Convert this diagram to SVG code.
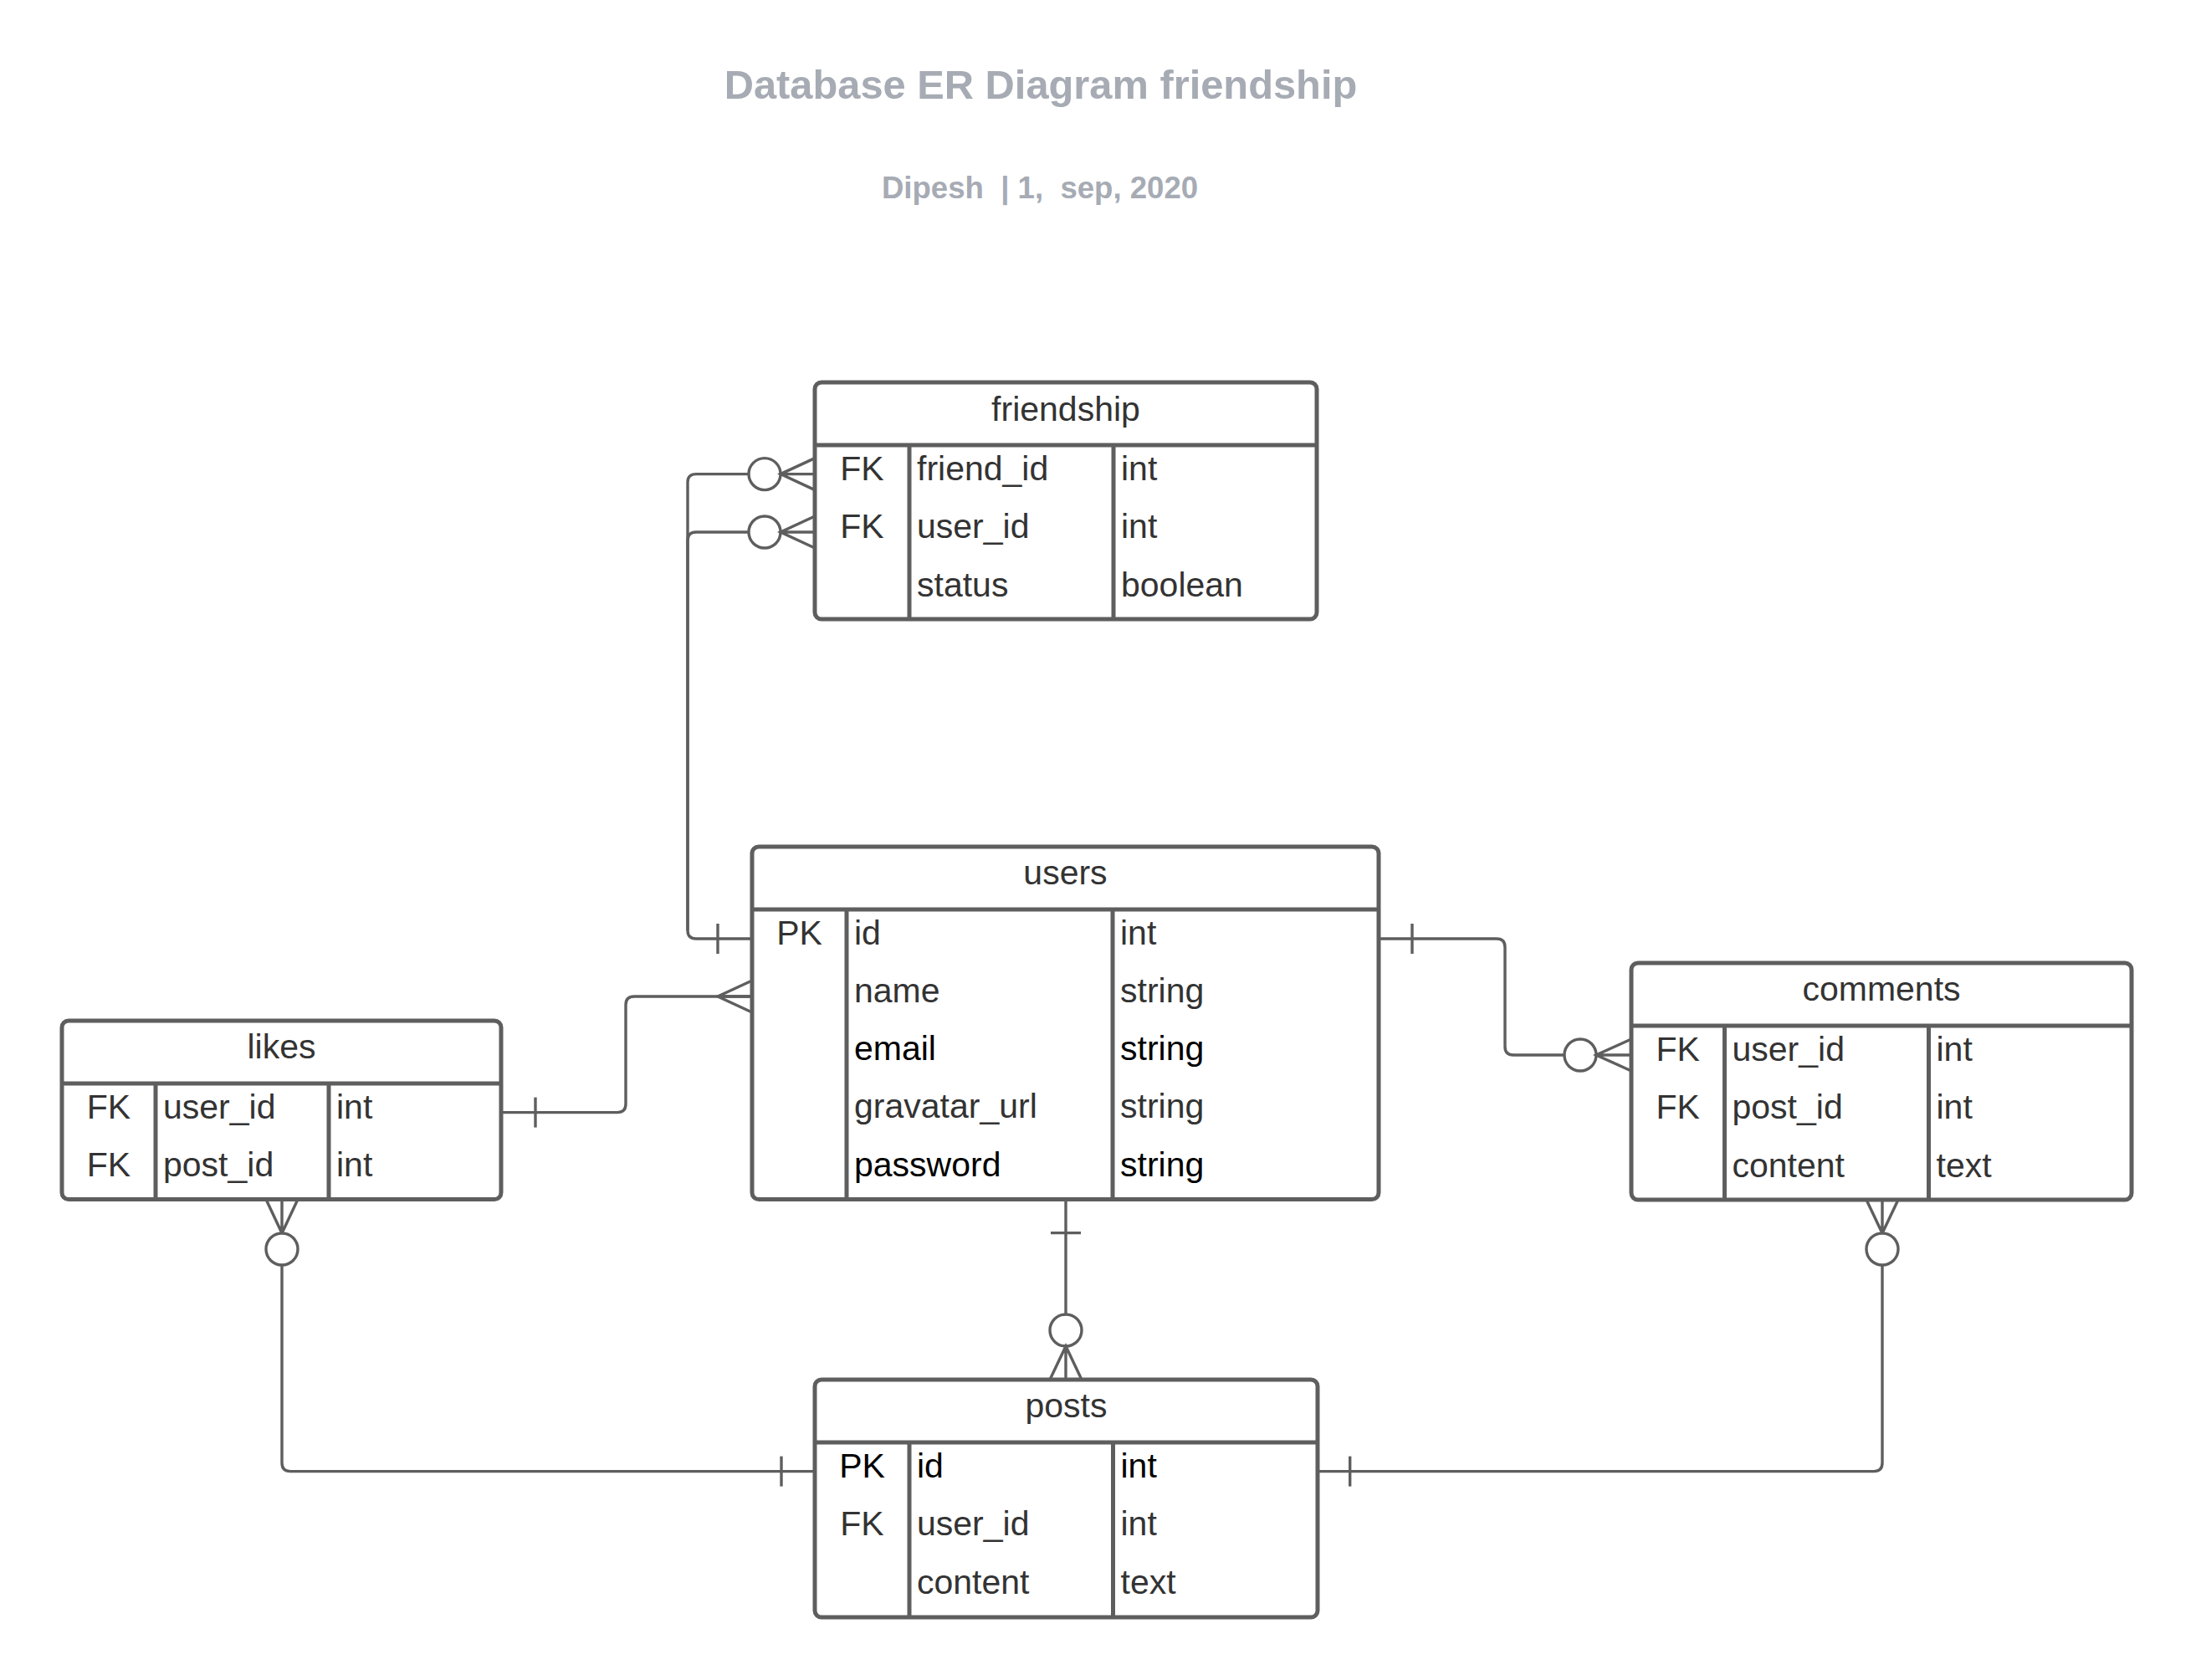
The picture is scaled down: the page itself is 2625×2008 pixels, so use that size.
<svg xmlns="http://www.w3.org/2000/svg" width="2625" height="2008" viewBox="0 0 2625 2008">
<style>
.bg{fill:#ffffff}
.box{fill:#ffffff;stroke:#5e5e5e;stroke-width:5}
.div{stroke:#5e5e5e;stroke-width:5;fill:none}
.c{fill:none;stroke:#5e5e5e;stroke-width:3.4}
.o{fill:#ffffff;stroke:#5e5e5e;stroke-width:3.4}
.t{font-family:"Liberation Sans",Arial,Helvetica,sans-serif;font-size:41px;fill:#333333}
.h{text-anchor:middle}
.m{text-anchor:middle}
.k{fill:#000000}
.title{font-family:"Liberation Sans",Arial,Helvetica,sans-serif;font-weight:bold;fill:#a6abb4;text-anchor:middle;white-space:pre}
</style>
<rect class="bg" x="0" y="0" width="2625" height="2008"/>
<g id="title">
<text class="title" x="1244" y="118" font-size="48.8">Database ER Diagram friendship</text>
<text class="title" x="1243" y="237" font-size="36.6" xml:space="preserve">Dipesh  | 1,  sep, 2020</text>
</g>
<g id="connectors">
<!-- friendship.friend_id -> users.id -->
<path class="c" d="M895 566.6 H832 Q822 566.6 822 576.6 V1112 Q822 1122 832 1122 H899"/>
<circle class="o" cx="914" cy="566.6" r="19"/>
<path class="c" d="M974 547.6 L933 566.6 L974 585.6 M933 566.6 H974"/>
<!-- friendship.user_id -> users.id -->
<path class="c" d="M895 636 H832 Q822 636 822 646 V1112"/>
<circle class="o" cx="914" cy="636" r="19"/>
<path class="c" d="M974 617 L933 636 L974 655 M933 636 H974"/>
<path class="c" d="M858 1104 V1140"/>
<!-- likes.user_id -> users.name -->
<path class="c" d="M599 1329.6 H738 Q748 1329.6 748 1319.6 V1201 Q748 1191 758 1191 H899"/>
<path class="c" d="M640 1311.6 V1347.6"/>
<path class="c" d="M899 1172 L858 1191 L899 1210 M858 1191 H899"/>
<!-- users.id -> comments.user_id -->
<path class="c" d="M1648 1122 H1789 Q1799 1122 1799 1132 V1251 Q1799 1261 1809 1261 H1870"/>
<path class="c" d="M1688 1104 V1140"/>
<circle class="o" cx="1889" cy="1261" r="19"/>
<path class="c" d="M1950 1242 L1908 1261 L1950 1280 M1908 1261 H1950"/>
<!-- users -> posts -->
<path class="c" d="M1274 1433.5 V1571"/>
<path class="c" d="M1256 1473.6 H1292"/>
<circle class="o" cx="1274" cy="1590" r="19"/>
<path class="c" d="M1255 1649 L1274 1609 L1293 1649 M1274 1609 V1649"/>
<!-- likes.post_id -> posts.id -->
<path class="c" d="M318 1433.5 L337 1474 L356 1433.5 M337 1433.5 V1474"/>
<circle class="o" cx="337" cy="1493" r="19"/>
<path class="c" d="M337 1512 V1748.6 Q337 1758.6 347 1758.6 H974"/>
<path class="c" d="M934 1740.6 V1776.6"/>
<!-- comments.post_id -> posts.id -->
<path class="c" d="M2231 1434 L2250 1474 L2269 1434 M2250 1434 V1474"/>
<circle class="o" cx="2250" cy="1493" r="19"/>
<path class="c" d="M2250 1512 V1748.6 Q2250 1758.6 2240 1758.6 H1575"/>
<path class="c" d="M1613.7 1740.6 V1776.6"/>
</g>
<g id="friendship">
<rect class="box" x="974" y="457" width="600" height="283" rx="8"/>
<path class="div" d="M974 532 H1574 M1087 532 V740 M1331 532 V740"/>
<text class="t h" x="1274" y="503" text-anchor="middle">friendship</text>
<text class="t m" x="1030.5" y="574" text-anchor="middle">FK</text>
<text class="t" x="1096" y="574">friend_id</text>
<text class="t" x="1340" y="574">int</text>
<text class="t m" x="1030.5" y="643.3" text-anchor="middle">FK</text>
<text class="t" x="1096" y="643.3">user_id</text>
<text class="t" x="1340" y="643.3">int</text>
<text class="t" x="1096" y="712.6">status</text>
<text class="t" x="1340" y="712.6">boolean</text>
</g>
<g id="users">
<rect class="box" x="899" y="1012" width="749" height="421.5" rx="8"/>
<path class="div" d="M899 1087 H1648 M1012 1087 V1433.5 M1330 1087 V1433.5"/>
<text class="t h" x="1273.5" y="1057" text-anchor="middle">users</text>
<text class="t m" x="955.5" y="1128.5" text-anchor="middle">PK</text>
<text class="t" x="1021" y="1128.5">id</text>
<text class="t" x="1339" y="1128.5">int</text>
<text class="t" x="1021" y="1197.8">name</text>
<text class="t" x="1339" y="1197.8">string</text>
<text class="t k" x="1021" y="1267.1">email</text>
<text class="t k" x="1339" y="1267.1">string</text>
<text class="t" x="1021" y="1336.4">gravatar_url</text>
<text class="t" x="1339" y="1336.4">string</text>
<text class="t k" x="1021" y="1405.7">password</text>
<text class="t k" x="1339" y="1405.7">string</text>
</g>
<g id="likes">
<rect class="box" x="74" y="1220" width="525" height="213.5" rx="8"/>
<path class="div" d="M74 1295 H599 M186 1295 V1433.5 M393 1295 V1433.5"/>
<text class="t h" x="336.5" y="1265" text-anchor="middle">likes</text>
<text class="t m" x="130" y="1337" text-anchor="middle">FK</text>
<text class="t" x="195" y="1337">user_id</text>
<text class="t" x="402" y="1337">int</text>
<text class="t m" x="130" y="1406.3" text-anchor="middle">FK</text>
<text class="t" x="195" y="1406.3">post_id</text>
<text class="t" x="402" y="1406.3">int</text>
</g>
<g id="comments">
<rect class="box" x="1950" y="1151" width="598" height="283" rx="8"/>
<path class="div" d="M1950 1226 H2548 M2061.5 1226 V1434 M2305.5 1226 V1434"/>
<text class="t h" x="2249" y="1196" text-anchor="middle">comments</text>
<text class="t m" x="2005.7" y="1268" text-anchor="middle">FK</text>
<text class="t" x="2070.5" y="1268">user_id</text>
<text class="t" x="2314.5" y="1268">int</text>
<text class="t m" x="2005.7" y="1337.3" text-anchor="middle">FK</text>
<text class="t" x="2070.5" y="1337.3">post_id</text>
<text class="t" x="2314.5" y="1337.3">int</text>
<text class="t" x="2070.5" y="1406.6">content</text>
<text class="t" x="2314.5" y="1406.6">text</text>
</g>
<g id="posts">
<rect class="box" x="974" y="1649" width="601" height="284" rx="8"/>
<path class="div" d="M974 1724 H1575 M1087 1724 V1933 M1330.5 1724 V1933"/>
<text class="t h" x="1274.5" y="1694" text-anchor="middle">posts</text>
<text class="t m k" x="1030.5" y="1766" text-anchor="middle">PK</text>
<text class="t k" x="1096" y="1766">id</text>
<text class="t k" x="1339.5" y="1766">int</text>
<text class="t m" x="1030.5" y="1835.3" text-anchor="middle">FK</text>
<text class="t" x="1096" y="1835.3">user_id</text>
<text class="t" x="1339.5" y="1835.3">int</text>
<text class="t" x="1096" y="1904.6">content</text>
<text class="t" x="1339.5" y="1904.6">text</text>
</g>
</svg>
